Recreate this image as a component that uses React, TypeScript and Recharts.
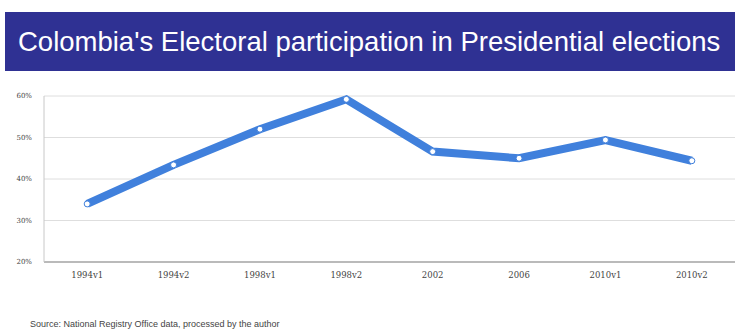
import { LineChart, Line, XAxis, YAxis, CartesianGrid } from "recharts";

const elections = ["1994v1", "1994v2", "1998v1", "1998v2", "2002", "2006", "2010v1", "2010v2"];
const participation = [34.0, 43.4, 52.0, 59.2, 46.6, 45.0, 49.4, 44.4];
const yTicks = [20, 30, 40, 50, 60];

const data = elections.map((e, i) => ({ election: e, value: participation[i] }));

export default function App() {
  return (
    <div style={{ position: "absolute", left: 0, top: 0, width: 735, height: 333, background: "#fff", overflow: "hidden" }}>
      <div
        style={{
          position: "absolute",
          left: 5,
          top: 12,
          width: 730,
          height: 59,
          background: "#2f3193",
          color: "#fff",
          fontFamily: "Liberation Sans, Arial, sans-serif",
          fontSize: 27.5,
          lineHeight: "59px",
          paddingLeft: 13,
          boxSizing: "border-box",
          whiteSpace: "nowrap",
        }}
      >
        Colombia's Electoral participation in Presidential elections
      </div>
      <div style={{ position: "absolute", left: 0, top: 0 }}>
        <LineChart width={735} height={333} data={data} margin={{ top: 96, right: 0, bottom: 41, left: 0 }}>
          <CartesianGrid vertical={false} stroke="#dedede" />
          <XAxis
            dataKey="election"
            scale="band"
            height={30}
            tickLine={false}
            axisLine={{ stroke: "#a8a8a8", strokeWidth: 1.5 }}
            tick={{ fontSize: 8.5, fill: "#444", fontFamily: "DejaVu Serif, serif" }}
            tickMargin={4}
          />
          <YAxis
            width={44}
            domain={[20, 60]}
            ticks={yTicks}
            tickFormatter={(v) => `${v}%`}
            tickLine={false}
            axisLine={{ stroke: "#c8c8c8" }}
            tick={{ fontSize: 7, fill: "#444", fontFamily: "DejaVu Serif, serif" }}
            tickMargin={6}
          />
          <Line
            type="linear"
            dataKey="value"
            stroke="#4080dc"
            strokeWidth={8}
            dot={{ r: 3, fill: "#fff", stroke: "#4080dc", strokeWidth: 1 }}
            isAnimationActive={false}
          />
        </LineChart>
      </div>
      <div
        style={{
          position: "absolute",
          left: 30,
          top: 319,
          fontFamily: "Liberation Sans, Arial, sans-serif",
          fontSize: 9,
          color: "#444",
          whiteSpace: "nowrap",
        }}
      >
        Source: National Registry Office data, processed by the author
      </div>
    </div>
  );
}
